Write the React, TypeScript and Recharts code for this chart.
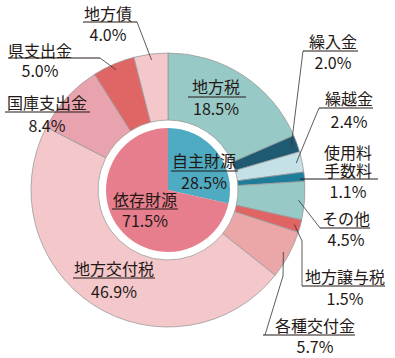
import { PieChart, Pie, Cell } from "recharts";

const itemNames = ["地方税", "繰入金", "繰越金", "使用料手数料", "その他", "地方譲与税", "各種交付金", "地方交付税", "国庫支出金", "県支出金", "地方債"];
const itemShares = [18.5, 2.0, 2.4, 1.1, 4.5, 1.5, 5.7, 46.9, 8.4, 5.0, 4.0];
const itemColors = ["#97c9c6", "#1e5b72", "#c4e1e7", "#1e7e9a", "#97c9c6", "#e06464", "#eba7a8", "#f4c8cb", "#e8a3ae", "#e06666", "#f4c8cb"];

const sourceNames = ["自主財源", "依存財源"];
const sourceShares = [28.5, 71.5];
const sourceColors = ["#4eabc2", "#e77e8d"];

const items = itemNames.map((name, i) => ({ name, value: itemShares[i] }));
const sources = sourceNames.map((name, i) => ({ name, value: sourceShares[i] }));

// label placement: text centre x, name line(s) y, underline y/x-range, value y, leader start + optional elbow
type LabelPos = { tx: number; ny: number[]; uy: number; ux: [number, number]; vy: number; lead?: [number, number][] };

const itemLabels: LabelPos[] = [
  { tx: 216, ny: [86], uy: 97, ux: [188, 246], vy: 108 },
  { tx: 333, ny: [41], uy: 51, ux: [303, 358], vy: 62, lead: [[303, 51]] },
  { tx: 349, ny: [98], uy: 108, ux: [319, 373], vy: 121, lead: [[319, 108]] },
  { tx: 348, ny: [152, 170], uy: 179, ux: [300, 378], vy: 191 },
  { tx: 346, ny: [218], uy: 228, ux: [320, 370], vy: 239, lead: [[320, 228]] },
  { tx: 345, ny: [276], uy: 286, ux: [302, 385], vy: 298, lead: [[302, 286], [302, 241]] },
  { tx: 315, ny: [325], uy: 335, ux: [263, 355], vy: 346, lead: [[265, 335], [283, 276]] },
  { tx: 114, ny: [268], uy: 278, ux: [73, 155], vy: 291 },
  { tx: 47, ny: [102], uy: 112, ux: [5, 90], vy: 125 },
  { tx: 40, ny: [50], uy: 58, ux: [8, 100], vy: 70, lead: [[100, 58]] },
  { tx: 108, ny: [13], uy: 22, ux: [83, 137], vy: 34, lead: [[137, 22]] },
];

const sourceLabels: LabelPos[] = [
  { tx: 204, ny: [160], uy: 171, ux: [171, 238], vy: 182 },
  { tx: 145, ny: [199], uy: 209, ux: [112, 178], vy: 220 },
];

const RADIAN = Math.PI / 180;
const ink = "#231815";
const font = "'Noto Sans CJK JP', 'Noto Sans', sans-serif";

function makeLabel(layout: LabelPos[], names: string[], shares: number[], anchorR: number) {
  return (props: any) => {
    const { cx, cy, midAngle, index } = props;
    const p = layout[index];
    const lines = index === 3 && names === itemNames ? ["使用料", "手数料"] : [names[index]];
    let leader = null;
    if (p.lead) {
      const ax = cx + anchorR * Math.cos(-midAngle * RADIAN);
      const ay = cy + anchorR * Math.sin(-midAngle * RADIAN);
      const pts = [...p.lead, [ax, ay]].map((q) => q.join(",")).join(" ");
      leader = <polyline points={pts} fill="none" stroke="#333" strokeWidth={0.8} />;
    }
    return (
      <g>
        {leader}
        {lines.map((t, k) => (
          <text key={k} x={p.tx} y={p.ny[k]} textAnchor="middle" dominantBaseline="central" fontSize={16} fill={ink} fontFamily={font}>
            {t}
          </text>
        ))}
        <line x1={p.ux[0]} x2={p.ux[1]} y1={p.uy} y2={p.uy} stroke={ink} strokeWidth={1} />
        <text x={p.tx} y={p.vy} textAnchor="middle" dominantBaseline="central" fontSize={16} fill={ink} fontFamily={font}>
          {shares[index].toFixed(1)}%
        </text>
      </g>
    );
  };
}

export default function App() {
  return (
    <div style={{ position: "absolute", left: 0, top: 0, width: 395, height: 358, background: "#fff" }}>
      <PieChart width={395} height={358} margin={{ top: 0, right: 0, bottom: 0, left: 0 }}>
        <Pie
          data={sources}
          dataKey="value"
          cx={168}
          cy={190}
          innerRadius={0}
          outerRadius={62}
          startAngle={90}
          endAngle={-270}
          stroke="none"
          isAnimationActive={false}
          labelLine={false}
          label={makeLabel(sourceLabels, sourceNames, sourceShares, 40)}
        >
          {sources.map((s, i) => (
            <Cell key={s.name} fill={sourceColors[i]} />
          ))}
        </Pie>
        <Pie
          data={items}
          dataKey="value"
          cx={168}
          cy={190}
          innerRadius={70}
          outerRadius={137}
          startAngle={90}
          endAngle={-270}
          stroke="#9a9a9a"
          strokeWidth={0.8}
          isAnimationActive={false}
          labelLine={false}
          label={makeLabel(itemLabels, itemNames, itemShares, 131)}
        >
          {items.map((s, i) => (
            <Cell key={s.name} fill={itemColors[i]} />
          ))}
        </Pie>
      </PieChart>
    </div>
  );
}
